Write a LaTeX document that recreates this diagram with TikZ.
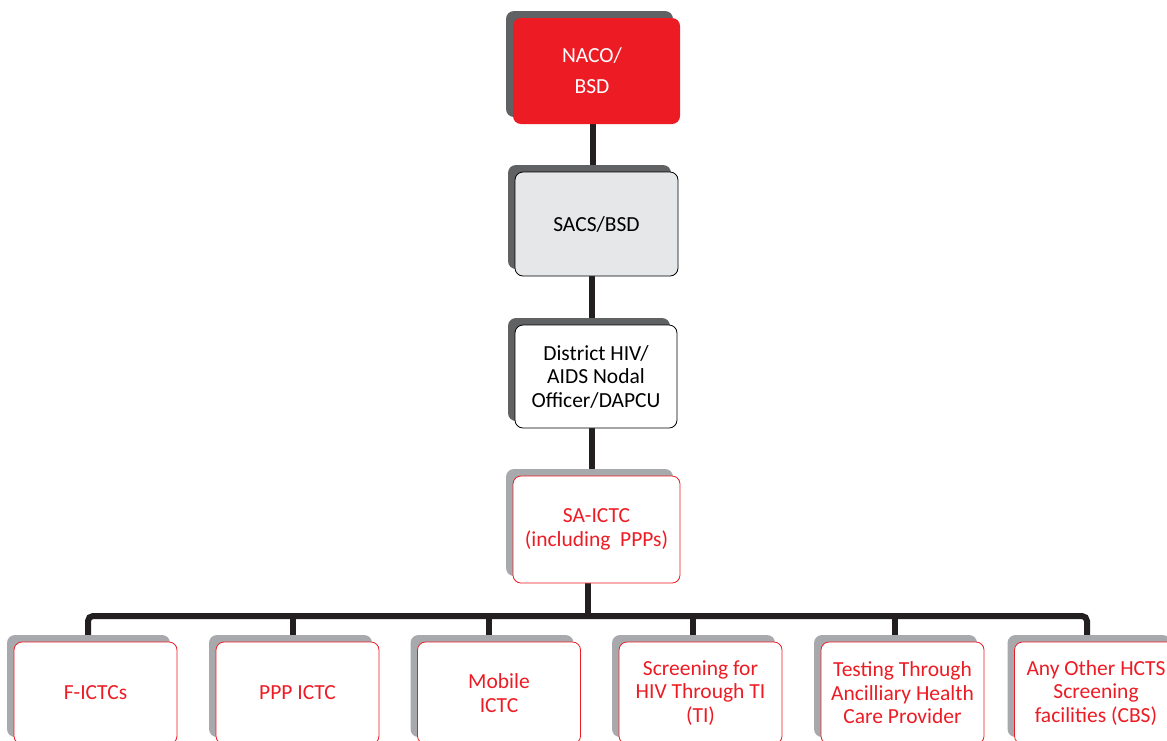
\documentclass[tikz,border=0pt]{standalone}
\usepackage{fontspec}
\setmainfont{Carlito}
\usetikzlibrary{shadows,backgrounds}
\definecolor{boxred}{HTML}{ED1C24}
\definecolor{shdark}{HTML}{606163}
\definecolor{shlight}{HTML}{A7A9AC}
\definecolor{sacsfill}{HTML}{E6E7E8}
\definecolor{linecol}{HTML}{231F20}
\tikzset{
  basebox/.style={rounded corners=8pt, inner sep=0pt, align=center,
    font=\fontsize{21.5}{23.5}\selectfont, line width=0.8pt},
  darkshadow/.style={drop shadow={shadow xshift=-7pt, shadow yshift=7pt, fill=shdark, opacity=1}},
  lightshadow/.style={drop shadow={shadow xshift=-7pt, shadow yshift=7pt, fill=shlight, opacity=1}},
  topbox/.style={basebox, darkshadow, minimum width=165pt, minimum height=105pt},
  redbox/.style={basebox, lightshadow, draw=boxred, fill=white, text=boxred},
  leafbox/.style={redbox, minimum width=163pt, minimum height=102pt},
  conn/.style={draw=linecol, line width=6pt}
}
\begin{document}
\begin{tikzpicture}[x=1pt,y=-1pt]
\useasboundingbox (0,0) rectangle (1167,740);
\clip (0,0) rectangle (1167,740);

\node[topbox, fill=boxred, text=white, minimum width=167pt, minimum height=106pt,
  font=\fontsize{21.5}{31}\selectfont] (naco) at (596.5,71) {\hspace*{-9pt}NACO/\\\hspace*{-9pt}BSD};
\node[topbox, draw=black, fill=sacsfill, minimum width=163pt, minimum height=104pt] (sacs) at (596.5,224) {SACS/BSD};
\node[topbox, draw=black, fill=white, minimum width=162pt, minimum height=103pt] (dist) at (596,376.5) {District HIV/\\AIDS Nodal\\Officer/DAPCU};
\node[redbox, minimum width=167pt, minimum height=107pt] (sa) at (596.5,529.5) {SA-ICTC\\(including\ \ PPPs)};

\node[leafbox] (f) at (95.5,693) {F-ICTCs};
\node[leafbox] (ppp) at (297.5,693) {PPP ICTC};
\node[leafbox] (mob) at (499,693) {Mobile\\ICTC};
\node[leafbox] (scr) at (700.5,693) {Screening for\\HIV Through TI\\(TI)};
\node[leafbox] (tst) at (902.5,693) {Testing Through\\Ancilliary Health\\Care Provider};
\node[leafbox] (any) at (1096,693) {Any Other HCTS\\Screening\\facilities (CBS)};

\coordinate (t1) at (592.5,0);
\coordinate (t2) at (592,0);
\coordinate (stub) at (588,616);
\coordinate (d1) at (88,616);
\coordinate (d2) at (293,616);
\coordinate (d3) at (489,616);
\coordinate (d4) at (693,616);
\coordinate (d5) at (895,616);
\coordinate (d6) at (1087,616);

\begin{scope}[on background layer]
\fill[white] (0,0) rectangle (1167,740);
\draw[conn] (naco.south -| t1) -- (sacs.north -| t1);
\draw[conn] (sacs.south -| t2) -- (dist.north -| t2);
\draw[conn] (dist.south -| t2) -- (sa.north -| t2);
\draw[conn] (sa.south -| stub) -- (stub);
\draw[conn, rounded corners=5pt] (f.north -| d1) -- (d1) -- (d6) -- (any.north -| d6);
\draw[conn] (d2) -- (ppp.north -| d2);
\draw[conn] (d3) -- (mob.north -| d3);
\draw[conn] (d4) -- (scr.north -| d4);
\draw[conn] (d5) -- (tst.north -| d5);
\end{scope}
\end{tikzpicture}
\end{document}
